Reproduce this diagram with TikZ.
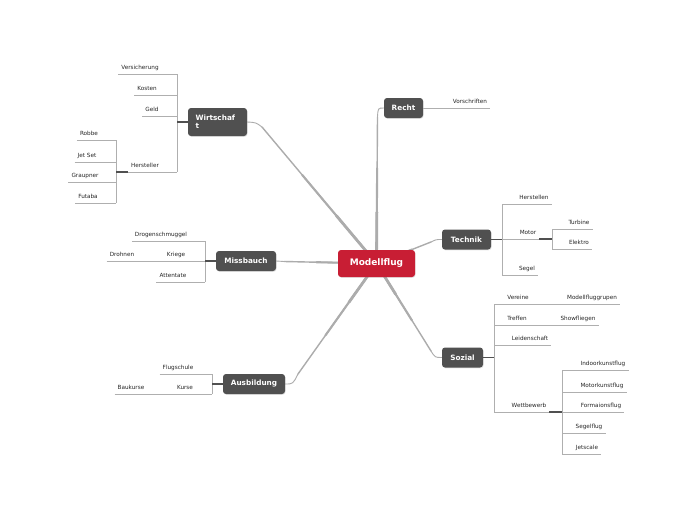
\documentclass[tikz,border=0pt]{standalone}
\usepackage{fontspec}
\setmainfont{DejaVu Sans}
\usetikzlibrary{positioning, backgrounds, shadows, calc}
\definecolor{ThemaRot}{RGB}{200,30,52}
\definecolor{ThemaGrau}{RGB}{80,80,80}
\definecolor{LinieGrau}{RGB}{175,175,175}
\definecolor{AstGrau}{RGB}{172,172,172}

\begin{document}
\begin{tikzpicture}[x=1pt, y=-1pt,
    zentral/.style={rectangle, rounded corners=3pt, fill=ThemaRot, text=white, font=\bfseries\fontsize{9}{10}\selectfont, minimum width=77pt, minimum height=27pt, drop shadow={opacity=0.2, shadow xshift=0.6pt, shadow yshift=-0.8pt}},
    haupt/.style={rectangle, rounded corners=3pt, fill=ThemaGrau, text=white, font=\bfseries\fontsize{7.3}{9}\selectfont, minimum height=20pt, inner xsep=2pt, drop shadow={opacity=0.2, shadow xshift=0.6pt, shadow yshift=-0.8pt}},
    blatt/.style={font=\fontsize{5.7}{6.5}\selectfont, inner xsep=0pt, inner ysep=2.5pt, text height=4.3pt, text depth=1.5pt, anchor=south, text=black!85},
    ast/.style={draw=AstGrau, line cap=round},
    linie/.style={draw=LinieGrau, line width=0.6pt},
    stiel/.style={draw=ThemaGrau, line width=1.1pt}]

    \useasboundingbox (0,0) rectangle (697,520);

    % Hauptknoten
    \node[zentral] (model) at (376.5,263.5) {Modellflug};
    \node[haupt, minimum width=59pt, minimum height=28pt, text width=44pt, align=left] (wirt) at (217.5,122) {Wirtschaf\\[-1pt]t};
    \node[haupt, minimum width=60pt] (miss) at (246,261) {Missbauch};
    \node[haupt, minimum width=62pt] (ausb) at (254,384) {Ausbildung};
    \node[haupt, minimum width=39pt] (recht) at (403.5,108) {Recht};
    \node[haupt, minimum width=49pt] (tech) at (466.5,239.5) {Technik};
    \node[haupt, minimum width=41pt] (sozial) at (462.5,357.5) {Sozial};

    % Zweige
    \coordinate (wsp) at (177,0);
    \coordinate (hsp) at (116,0);
    \coordinate (msp) at (205,0);
    \coordinate (asp) at (212,0);
    \coordinate (tsp) at (502,0);
    \coordinate (mosp) at (552,0);
    \coordinate (ssp) at (494,0);
    \coordinate (wbsp) at (562,0);

    % Wirtschaft
    \node[blatt] (versich) at (140,74) {Versicherung};
    \node[blatt] (kosten) at (147,95) {Kosten};
    \node[blatt] (geld) at (152,116) {Geld};
    \node[blatt] (herst) at (145,172) {Hersteller};
    \node[blatt] (robbe) at (89,140) {Robbe};
    \node[blatt] (jetset) at (87,162) {Jet Set};
    \node[blatt] (graupner) at (85,182) {Graupner};
    \node[blatt] (futaba) at (88,203) {Futaba};
    \draw[linie] (wsp |- versich.south) -- (wsp |- herst.south);
    \foreach \n in {versich, kosten, geld, herst}
        \draw[linie] ([xshift=-3pt]\n.south west) -- (\n.south -| wsp);
    \draw[stiel] (wirt.west) -- (wirt.west -| wsp);
    \draw[linie] (hsp |- robbe.south) -- (hsp |- futaba.south);
    \foreach \n in {robbe, jetset, graupner, futaba}
        \draw[linie] ([xshift=-3pt]\n.south west) -- (\n.south -| hsp);
    \draw[stiel] ([xshift=-3pt]herst.south west) -- (herst.south -| hsp);

    % Missbauch
    \node[blatt] (drogen) at (161,241) {Drogenschmuggel};
    \node[blatt] (kriege) at (176,261) {Kriege};
    \node[blatt] (drohnen) at (122,261) {Drohnen};
    \node[blatt] (attentate) at (173,282) {Attentate};
    \draw[linie] (msp |- drogen.south) -- (msp |- attentate.south);
    \foreach \n in {drogen, kriege, attentate}
        \draw[linie] ([xshift=-3pt]\n.south west) -- (\n.south -| msp);
    \draw[linie] ([xshift=-3pt]drohnen.south west) -- ([xshift=-3pt]kriege.south west);
    \draw[stiel] (miss.west) -- (miss.west -| msp);

    % Ausbildung
    \node[blatt] (flugschule) at (178,374) {Flugschule};
    \node[blatt] (kurse) at (185,394) {Kurse};
    \node[blatt] (baukurse) at (131,394) {Baukurse};
    \draw[linie] (asp |- flugschule.south) -- (asp |- kurse.south);
    \foreach \n in {flugschule, kurse}
        \draw[linie] ([xshift=-3pt]\n.south west) -- (\n.south -| asp);
    \draw[linie] ([xshift=-3pt]baukurse.south west) -- ([xshift=-3pt]kurse.south west);
    \draw[stiel] (ausb.west) -- (ausb.west -| asp);

    % Recht
    \node[blatt] (vorschr) at (470,108) {Vorschriften};
    \draw[linie] (recht.east) -- ([xshift=3pt]vorschr.south east);

    % Technik
    \node[blatt] (herstellen) at (534,204) {Herstellen};
    \node[blatt] (motor) at (528,239) {Motor};
    \node[blatt] (turbine) at (579,229) {Turbine};
    \node[blatt] (elektro) at (579,249) {Elektro};
    \node[blatt] (segel) at (527,275) {Segel};
    \draw[linie] (tsp |- herstellen.south) -- (tsp |- segel.south);
    \foreach \n in {herstellen, motor, segel}
        \draw[linie] (\n.south -| tsp) -- ([xshift=3pt]\n.south east);
    \draw[stiel] (tech.east) -- (tech.east -| tsp);
    \draw[linie] (mosp |- turbine.south) -- (mosp |- elektro.south);
    \foreach \n in {turbine, elektro}
        \draw[linie] (\n.south -| mosp) -- ([xshift=3pt]\n.south east);
    \draw[stiel] ([xshift=3pt]motor.south east) -- (motor.south -| mosp);

    % Sozial
    \node[blatt] (vereine) at (518,304) {Vereine};
    \node[blatt] (modellgr) at (592,304) {Modellfluggrupen};
    \node[blatt] (treffen) at (517,325) {Treffen};
    \node[blatt] (showfl) at (578,325) {Showfliegen};
    \node[blatt] (leiden) at (530,345) {Leidenschaft};
    \node[blatt] (wettb) at (529,412) {Wettbewerb};
    \node[blatt] (indoor) at (603,370) {Indoorkunstflug};
    \node[blatt] (motorkf) at (602,392) {Motorkunstflug};
    \node[blatt] (formation) at (601,412) {Formaionsflug};
    \node[blatt] (segelflug) at (589,433) {Segelflug};
    \node[blatt] (jetscale) at (587,454) {Jetscale};
    \draw[linie] (ssp |- vereine.south) -- (ssp |- wettb.south);
    \foreach \n in {vereine, treffen, leiden, wettb}
        \draw[linie] (\n.south -| ssp) -- ([xshift=3pt]\n.south east);
    \draw[linie] ([xshift=3pt]vereine.south east) -- ([xshift=3pt]modellgr.south east);
    \draw[linie] ([xshift=3pt]treffen.south east) -- ([xshift=3pt]showfl.south east);
    \draw[stiel] (sozial.east) -- (sozial.east -| ssp);
    \draw[linie] (wbsp |- indoor.south) -- (wbsp |- jetscale.south);
    \foreach \n in {indoor, motorkf, formation, segelflug, jetscale}
        \draw[linie] (\n.south -| wbsp) -- ([xshift=3pt]\n.south east);
    \draw[stiel] ([xshift=3pt]wettb.south east) -- (wettb.south -| wbsp);

    % Verbindungen zur Mitte (Knick + Kurve)
    \coordinate (kw) at (262,127);   \coordinate (cw) at (256,122.5);
    \coordinate (km) at (284,261.5); \coordinate (cm) at (280,261);
    \coordinate (ka) at (298,374);   \coordinate (ca) at (293,384);
    \coordinate (kr) at (377.5,117); \coordinate (cr) at (378,108);
    \coordinate (kt) at (431,242);   \coordinate (ct) at (436,239.5);
    \coordinate (ks) at (431,351);   \coordinate (cs) at (435,357.5);
    \begin{scope}[on background layer]
        \fill[white] (0,0) rectangle (697,520);
        \foreach \k/\c/\z in {kw/cw/wirt.east, km/cm/miss.east, ka/ca/ausb.east,
                              kr/cr/recht.west, kt/ct/tech.west, ks/cs/sozial.west} {
            \foreach \a/\w in {0.35/2.8, 0.65/2.1, 1/1.4}
                \draw[ast, line width=\w pt] (model.center) -- ($(model.center)!\a!(\k)$);
            \draw[ast, line width=0.9pt] (\k) .. controls (\c) .. (\z);
        }
    \end{scope}
\end{tikzpicture}
\end{document}
